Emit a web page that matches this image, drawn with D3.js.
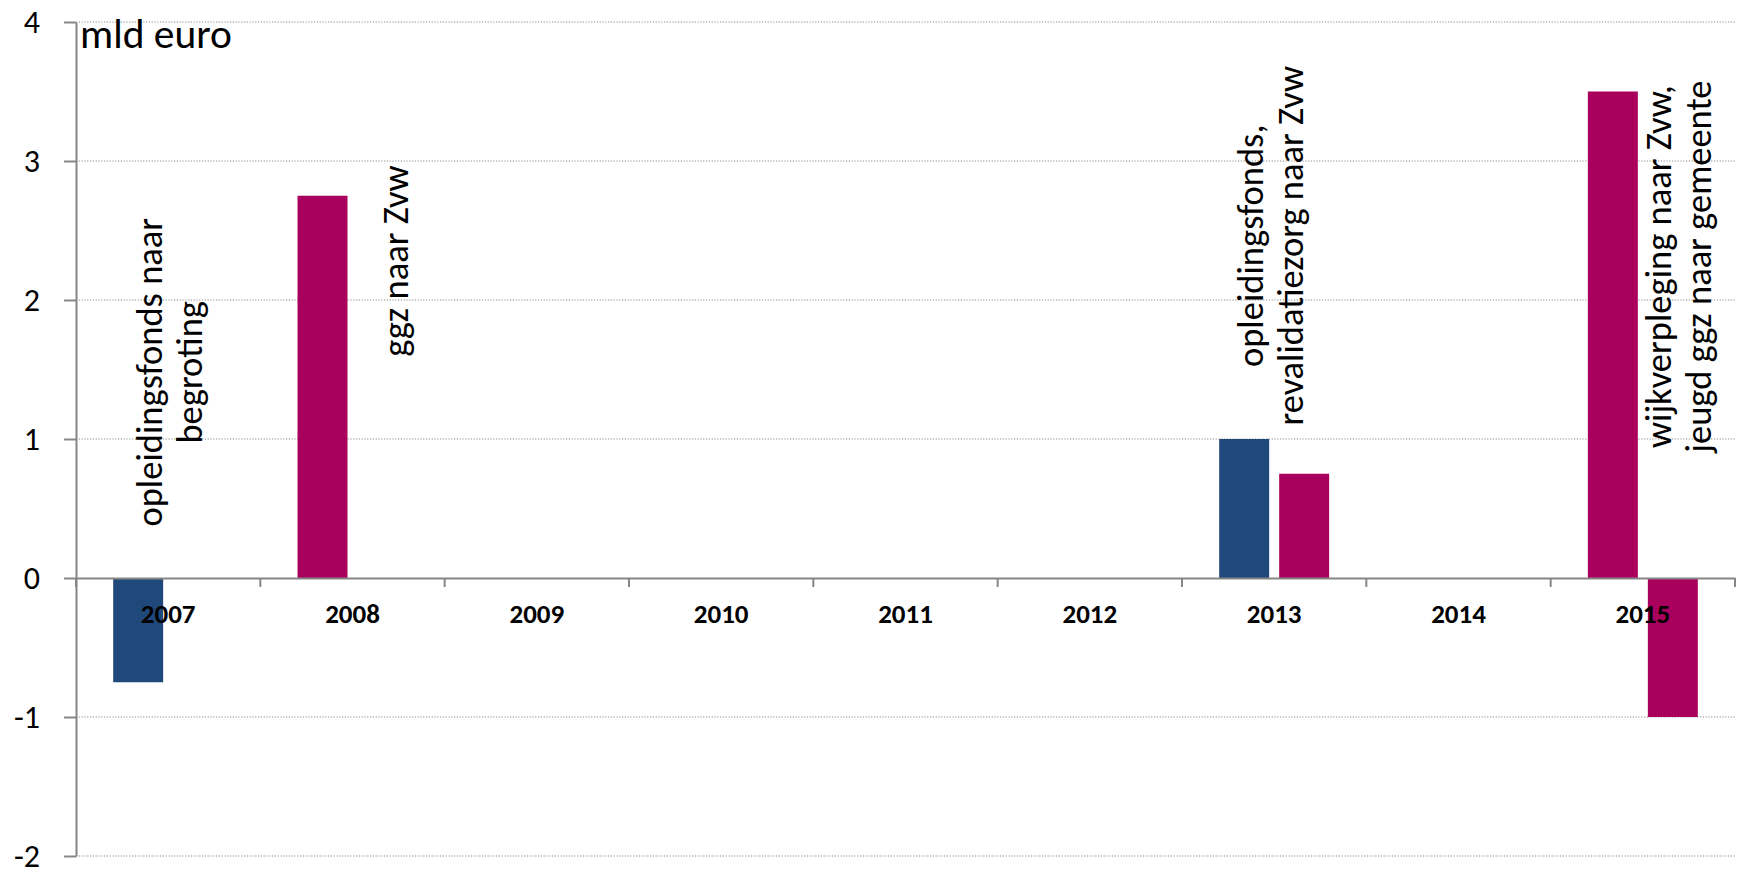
<!DOCTYPE html>
<html>
<head>
<meta charset="utf-8">
<script src="https://cdn.jsdelivr.net/npm/d3@7"></script>
<style>
  html, body { margin: 0; padding: 0; background: #ffffff; }
  svg { display: block; }
  text { font-family: Carlito, Calibri, "Liberation Sans", Arial, sans-serif; fill: #000; }
</style>
</head>
<body>
<svg id="chart" width="1742" height="870"></svg>
<script>
// Years on the category axis
const categories = ["2007", "2008", "2009", "2010", "2011", "2012", "2013", "2014", "2015"];

// Budget shifts in billions of euro (null = no shift that year)
const shiftsBlue          = [-0.75, null, null, null, null, null, 1.0,  null, null];
const shiftsPurple        = [null,  2.75, null, null, null, null, null, null, 3.5];
const shiftsPurpleSecond  = [null,  null, null, null, null, null, 0.75, null, -1.0];

// Value axis ticks
const yTicks = [-2, -1, 0, 1, 2, 3, 4];
const unitLabel = "mld euro";

// Explanatory notes per year
const noteYears = ["2007", "2008", "2013", "2015"];
const noteLines = [
  ["opleidingsfonds naar", "begroting"],
  ["ggz naar Zvw"],
  ["opleidingsfonds,", "revalidatiezorg naar Zvw"],
  ["wijkverpleging naar Zvw,", "jeugd ggz naar gemeente"]
];

const BLUE = "#1f497b";
const PURPLE = "#aa005d";

const svg = d3.select("#chart");
const plot = { left: 76, right: 1735, top: 22, bottom: 856 };

const x0 = d3.scaleBand().domain(categories).range([plot.left, plot.right]).padding(0);
const x1 = d3.scaleBand().domain([0, 1]).range([0, x0.bandwidth()])
  .paddingInner(0.167).paddingOuter(0.62);
const y = d3.scaleLinear().domain([-2, 4]).range([plot.bottom, plot.top]);

// Dotted horizontal gridlines
svg.append("g")
  .selectAll("line")
  .data(yTicks.filter(v => v !== 0))
  .join("line")
  .attr("x1", plot.left).attr("x2", plot.right)
  .attr("y1", d => y(d)).attr("y2", d => y(d))
  .attr("stroke", "#8c8c8c")
  .attr("stroke-width", 1.2)
  .attr("stroke-dasharray", "1.2,1.6");

// Bars: each series with its colour and slot inside the year group
const seriesList = [
  { values: shiftsBlue, slot: 0, color: BLUE },
  { values: shiftsPurple, slot: 0, color: PURPLE },
  { values: shiftsPurpleSecond, slot: 1, color: PURPLE }
];

const barsG = svg.append("g");
seriesList.forEach(s => {
  const pts = categories
    .map((c, i) => ({ cat: c, v: s.values[i] }))
    .filter(d => d.v !== null);
  barsG.append("g")
    .selectAll("rect")
    .data(pts)
    .join("rect")
    .attr("x", d => x0(d.cat) + x1(s.slot))
    .attr("width", x1.bandwidth())
    .attr("y", d => Math.min(y(d.v), y(0)))
    .attr("height", d => Math.abs(y(d.v) - y(0)))
    .attr("fill", s.color);
});

// Value axis
const yAxis = svg.append("g")
  .attr("transform", `translate(${plot.left},0)`)
  .call(d3.axisLeft(y).tickValues(yTicks).tickFormat(d => String(d))
    .tickSizeInner(12).tickSizeOuter(0).tickPadding(24));
yAxis.select(".domain").attr("stroke", "#868686").attr("stroke-width", 2);
yAxis.selectAll(".tick line").attr("stroke", "#868686").attr("stroke-width", 2);
yAxis.selectAll(".tick text").style("font-size", "32px").attr("dy", "0.33em");

// Category axis on the zero line with ticks between the years
const xAxis = svg.append("g")
  .attr("transform", `translate(0,${y(0)})`)
  .call(d3.axisBottom(x0).tickSize(0).tickPadding(26));
xAxis.select(".domain").attr("stroke", "#868686").attr("stroke-width", 2);
xAxis.selectAll(".tick text").style("font-size", "27px").style("font-weight", "bold");

const boundaries = categories.map(c => x0(c)).concat([x0.range()[1]]);
xAxis.append("g")
  .selectAll("line")
  .data(boundaries)
  .join("line")
  .attr("x1", d => d).attr("x2", d => d)
  .attr("y1", 0).attr("y2", 9)
  .attr("stroke", "#868686").attr("stroke-width", 2);

// Unit label in the top-left corner
svg.append("text")
  .attr("x", plot.left + 4)
  .attr("y", 48)
  .style("font-size", "41.5px")
  .text(unitLabel);

// Rotated notes beside the bars (offset from year band start, height in axis units)
const noteAnchors = [
  { dx: 101, at: 1.48 },
  { dx: 142, at: 2.28 },
  { dx: 96,  at: 2.39 },
  { dx: 135, at: 2.24 }
];
const noteSize = 36.5, noteLead = 40;
noteYears.forEach((yr, i) => {
  const lines = noteLines[i];
  const cx = x0(yr) + noteAnchors[i].dx;
  const cy = y(noteAnchors[i].at);
  const first = -(lines.length - 1) * noteLead / 2 + 0.15 * noteSize;
  const t = svg.append("text")
    .attr("transform", `translate(${cx},${cy}) rotate(-90)`)
    .attr("text-anchor", "middle")
    .style("font-size", noteSize + "px");
  lines.forEach((ln, k) => {
    t.append("tspan").attr("x", 0).attr("y", first + k * noteLead).text(ln);
  });
});
</script>
</body>
</html>
